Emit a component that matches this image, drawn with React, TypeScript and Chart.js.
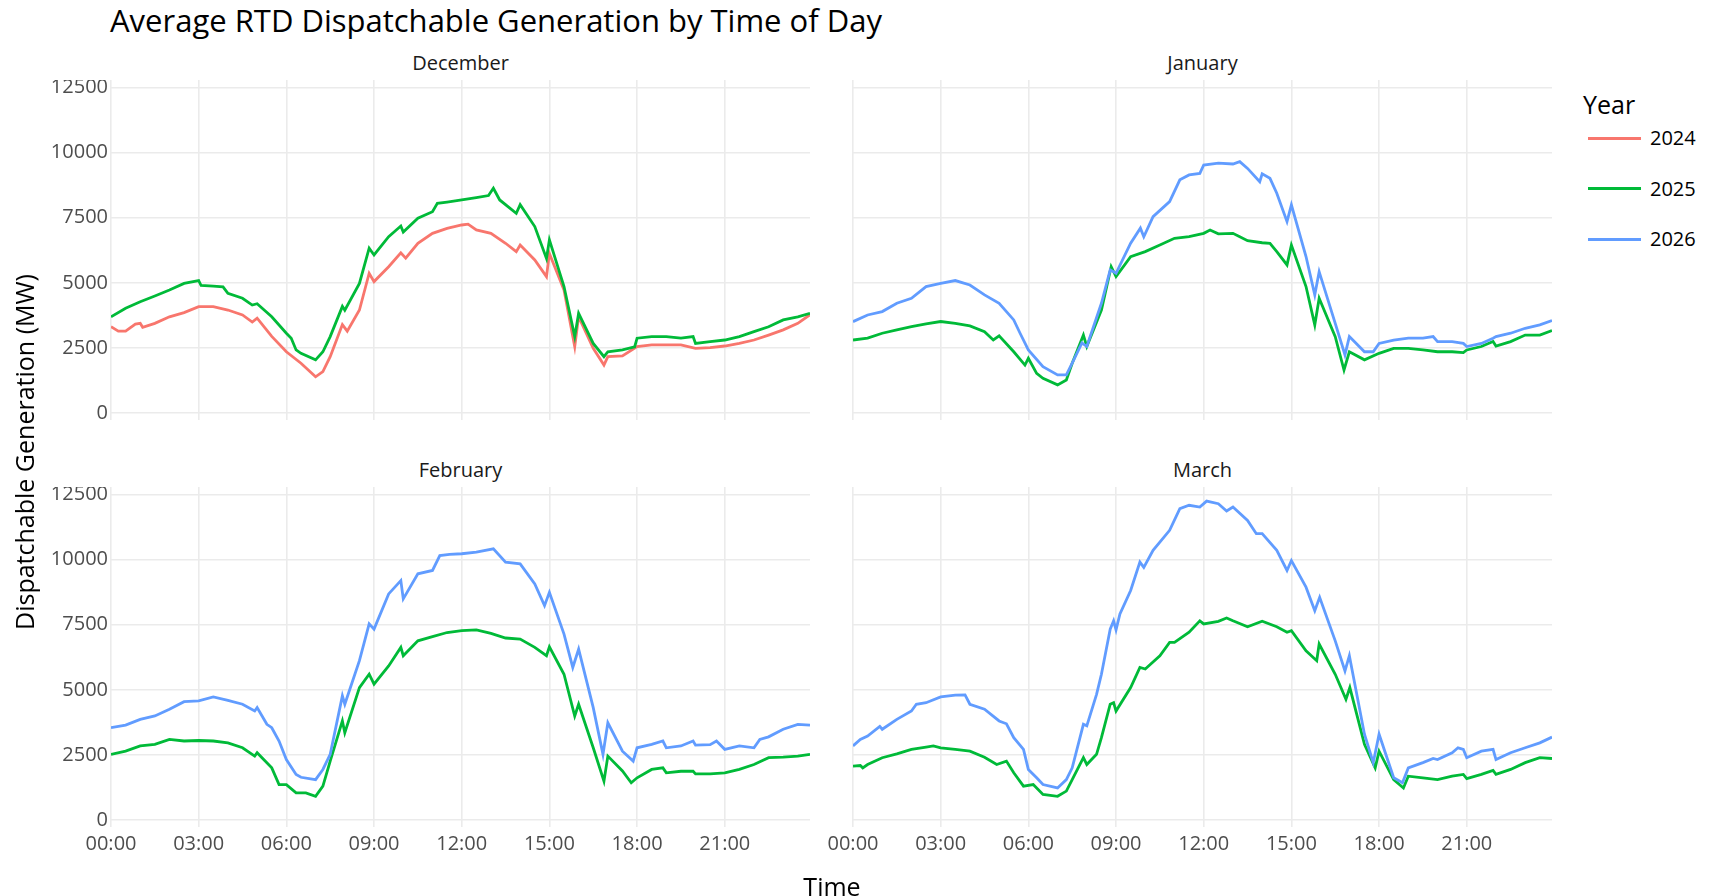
import React, { useEffect, useRef } from "react";
import { Chart, registerables } from "chart.js";

Chart.register(...registerables);

// ---------- data (time of day "HH:MM", MW) ----------
const YEARS = ["2024", "2025", "2026"];
const X_TICKS = [0, 3, 6, 9, 12, 15, 18, 21];
const X_TICK_LABELS = ["00:00", "03:00", "06:00", "09:00", "12:00", "15:00", "18:00", "21:00"];
const Y_TICKS = [0, 2500, 5000, 7500, 10000, 12500];

const dec2024: [string, number][] = [
  ["00:00", 3320], ["00:15", 3150], ["00:30", 3150], ["00:50", 3420], ["01:00", 3450], ["01:05", 3300],
  ["01:30", 3450], ["02:00", 3700], ["02:30", 3860], ["03:00", 4090], ["03:30", 4090], ["04:00", 3960],
  ["04:30", 3770], ["04:50", 3500], ["05:00", 3650], ["05:30", 2950], ["06:00", 2360], ["06:30", 1920],
  ["07:00", 1400], ["07:15", 1600], ["07:30", 2170], ["07:55", 3400], ["08:05", 3150], ["08:30", 3960],
  ["08:50", 5370], ["09:00", 5050], ["09:30", 5620], ["09:55", 6150], ["10:05", 5950], ["10:30", 6520],
  ["11:00", 6900], ["11:30", 7090], ["12:00", 7220], ["12:13", 7250], ["12:30", 7030], ["13:00", 6900],
  ["13:30", 6520], ["13:52", 6200], ["14:00", 6450], ["14:30", 5880], ["14:54", 5240], ["15:00", 6130],
  ["15:30", 4730], ["15:52", 2560], ["16:00", 3710], ["16:30", 2490], ["16:52", 1850], ["17:00", 2170],
  ["17:30", 2200], ["18:00", 2560], ["18:30", 2620], ["19:00", 2620], ["19:30", 2620], ["20:00", 2490],
  ["20:30", 2520], ["21:00", 2580], ["21:30", 2680], ["22:00", 2810], ["22:30", 3000], ["23:00", 3200],
  ["23:30", 3450], ["23:55", 3780],
];

const dec2025: [string, number][] = [
  ["00:00", 3700], ["00:30", 4030], ["01:00", 4280], ["01:30", 4500], ["02:00", 4730], ["02:30", 4980],
  ["03:00", 5090], ["03:05", 4900], ["03:30", 4880], ["03:50", 4850], ["04:00", 4600], ["04:30", 4410],
  ["04:50", 4150], ["05:00", 4200], ["05:30", 3700], ["06:00", 3070], ["06:10", 2880], ["06:20", 2430],
  ["06:30", 2300], ["07:00", 2050], ["07:15", 2360], ["07:30", 2940], ["07:55", 4100], ["08:00", 3950],
  ["08:30", 4980], ["08:50", 6330], ["09:00", 6070], ["09:30", 6770], ["09:55", 7180], ["10:00", 6950],
  ["10:30", 7480], ["11:00", 7730], ["11:10", 8050], ["11:30", 8100], ["12:00", 8180], ["12:30", 8270],
  ["12:55", 8350], ["13:05", 8630], ["13:18", 8180], ["13:52", 7670], ["14:00", 8000], ["14:30", 7160],
  ["14:54", 5940], ["15:00", 6650], ["15:30", 4860], ["15:52", 2940], ["16:00", 3830], ["16:30", 2680],
  ["16:52", 2170], ["17:00", 2360], ["17:30", 2430], ["17:55", 2550], ["18:00", 2880], ["18:30", 2940],
  ["19:00", 2940], ["19:30", 2880], ["19:55", 2940], ["20:00", 2680], ["20:30", 2750], ["21:00", 2810],
  ["21:30", 2940], ["22:00", 3130], ["22:30", 3320], ["23:00", 3580], ["23:30", 3700], ["23:55", 3830],
];

const jan2025: [string, number][] = [
  ["00:00", 2810], ["00:30", 2880], ["01:00", 3070], ["01:30", 3200], ["02:00", 3320], ["02:30", 3430],
  ["03:00", 3520], ["03:30", 3450], ["04:00", 3350], ["04:30", 3130], ["04:48", 2810], ["05:00", 2970],
  ["05:30", 2360], ["05:53", 1850], ["06:00", 2110], ["06:17", 1530], ["06:30", 1340], ["07:00", 1090],
  ["07:18", 1280], ["07:30", 1920], ["07:53", 3000], ["08:00", 2560], ["08:30", 3960], ["08:50", 5620],
  ["09:00", 5240], ["09:30", 6010], ["10:00", 6200], ["10:30", 6450], ["11:00", 6710], ["11:30", 6770],
  ["12:00", 6900], ["12:13", 7030], ["12:30", 6880], ["13:00", 6900], ["13:14", 6770], ["13:30", 6620],
  ["14:00", 6540], ["14:16", 6520], ["14:30", 6200], ["14:51", 5690], ["15:00", 6450], ["15:30", 4860],
  ["15:48", 3390], ["15:57", 4410], ["16:30", 2940], ["16:48", 1660], ["16:59", 2360], ["17:30", 2050],
  ["18:00", 2300], ["18:30", 2490], ["19:00", 2490], ["19:30", 2430], ["20:00", 2360], ["20:30", 2360],
  ["20:53", 2330], ["21:00", 2430], ["21:30", 2560], ["21:54", 2750], ["22:00", 2580], ["22:30", 2750],
  ["23:00", 3000], ["23:30", 3000], ["23:55", 3170],
];

const jan2026: [string, number][] = [
  ["00:00", 3515], ["00:30", 3770], ["01:00", 3900], ["01:30", 4220], ["02:00", 4410], ["02:30", 4860],
  ["03:00", 4980], ["03:30", 5090], ["04:00", 4920], ["04:30", 4540], ["05:00", 4220], ["05:30", 3580],
  ["05:43", 3070], ["06:00", 2430], ["06:30", 1790], ["07:00", 1470], ["07:18", 1470], ["07:30", 1920],
  ["07:50", 2700], ["08:00", 2560], ["08:30", 4220], ["08:48", 5500], ["09:00", 5370], ["09:30", 6520],
  ["09:50", 7100], ["09:57", 6770], ["10:16", 7540], ["10:50", 8120], ["11:11", 8950], ["11:30", 9140],
  ["11:52", 9200], ["12:00", 9520], ["12:30", 9590], ["13:00", 9560], ["13:14", 9650], ["13:30", 9390],
  ["13:55", 8880], ["14:00", 9180], ["14:16", 9010], ["14:30", 8440], ["14:51", 7350], ["15:00", 7990],
  ["15:30", 6010], ["15:48", 4540], ["15:57", 5430], ["16:30", 3450], ["16:50", 2240], ["16:59", 2940],
  ["17:30", 2360], ["17:48", 2360], ["18:00", 2680], ["18:30", 2810], ["19:00", 2880], ["19:30", 2880],
  ["19:51", 2940], ["20:00", 2750], ["20:30", 2750], ["20:53", 2680], ["21:00", 2560], ["21:30", 2680],
  ["21:54", 2880], ["22:00", 2940], ["22:30", 3070], ["23:00", 3260], ["23:30", 3390], ["23:55", 3560],
];

const feb2025: [string, number][] = [
  ["00:00", 2530], ["00:30", 2650], ["01:00", 2850], ["01:30", 2910], ["02:00", 3100], ["02:30", 3040],
  ["03:00", 3060], ["03:30", 3040], ["04:00", 2970], ["04:30", 2780], ["04:55", 2460], ["05:00", 2590],
  ["05:30", 2010], ["05:45", 1370], ["06:00", 1370], ["06:20", 1050], ["06:40", 1050], ["07:00", 920],
  ["07:15", 1310], ["07:30", 2270], ["07:55", 3810], ["08:00", 3360], ["08:30", 5090], ["08:50", 5600],
  ["09:00", 5220], ["09:30", 5920], ["09:55", 6630], ["10:00", 6310], ["10:30", 6880], ["11:00", 7040],
  ["11:30", 7200], ["12:00", 7270], ["12:30", 7300], ["13:00", 7170], ["13:30", 6990], ["14:00", 6950],
  ["14:30", 6630], ["14:54", 6310], ["15:00", 6650], ["15:30", 5600], ["15:52", 4000], ["16:00", 4450],
  ["16:30", 2780], ["16:52", 1500], ["17:00", 2460], ["17:30", 1890], ["17:48", 1440], ["18:00", 1630],
  ["18:30", 1950], ["18:53", 2010], ["19:00", 1820], ["19:30", 1880], ["19:55", 1880], ["20:00", 1780],
  ["20:30", 1780], ["21:00", 1820], ["21:30", 1950], ["22:00", 2140], ["22:30", 2400], ["23:00", 2420],
  ["23:30", 2460], ["23:55", 2530],
];

const feb2026: [string, number][] = [
  ["00:00", 3550], ["00:30", 3650], ["01:00", 3870], ["01:30", 4000], ["02:00", 4260], ["02:30", 4550],
  ["03:00", 4580], ["03:30", 4730], ["04:00", 4600], ["04:30", 4450], ["04:55", 4190], ["05:00", 4320],
  ["05:20", 3680], ["05:30", 3550], ["05:45", 3040], ["06:00", 2330], ["06:20", 1760], ["06:30", 1650],
  ["07:00", 1560], ["07:15", 1950], ["07:30", 2530], ["07:55", 4770], ["08:00", 4450], ["08:30", 6120],
  ["08:50", 7530], ["09:00", 7330], ["09:30", 8680], ["09:55", 9190], ["10:00", 8490], ["10:30", 9450],
  ["11:00", 9580], ["11:15", 10150], ["11:35", 10200], ["12:00", 10220], ["12:30", 10280], ["13:05", 10410],
  ["13:30", 9900], ["14:00", 9830], ["14:30", 9060], ["14:50", 8230], ["15:00", 8740], ["15:30", 7140],
  ["15:48", 5860], ["16:00", 6560], ["16:30", 4320], ["16:50", 2530], ["17:00", 3740], ["17:30", 2650],
  ["17:52", 2270], ["18:00", 2780], ["18:30", 2910], ["18:53", 3040], ["19:00", 2780], ["19:30", 2850],
  ["19:55", 3040], ["20:00", 2880], ["20:30", 2900], ["20:43", 3040], ["21:00", 2720], ["21:30", 2850],
  ["22:00", 2780], ["22:12", 3100], ["22:30", 3200], ["23:00", 3490], ["23:30", 3680], ["23:55", 3650],
];

const mar2025: [string, number][] = [
  ["00:00", 2080], ["00:15", 2100], ["00:20", 2010], ["00:30", 2140], ["01:00", 2400], ["01:30", 2550],
  ["02:00", 2720], ["02:30", 2810], ["02:45", 2850], ["03:00", 2780], ["03:30", 2720], ["04:00", 2650],
  ["04:30", 2420], ["04:55", 2140], ["05:15", 2270], ["05:30", 1820], ["05:50", 1310], ["06:10", 1370],
  ["06:30", 990], ["07:00", 920], ["07:18", 1120], ["07:30", 1560], ["07:53", 2400], ["08:00", 2140],
  ["08:20", 2530], ["08:30", 3170], ["08:48", 4450], ["08:55", 4510], ["09:00", 4190], ["09:30", 5090],
  ["09:49", 5860], ["10:00", 5800], ["10:30", 6310], ["10:50", 6820], ["11:00", 6820], ["11:30", 7210],
  ["11:52", 7650], ["12:00", 7530], ["12:30", 7630], ["12:47", 7760], ["13:00", 7650], ["13:30", 7420],
  ["14:00", 7630], ["14:30", 7420], ["14:51", 7210], ["15:00", 7270], ["15:30", 6500], ["15:52", 6120],
  ["15:57", 6760], ["16:30", 5600], ["16:52", 4640], ["17:00", 5090], ["17:30", 2910], ["17:52", 2010],
  ["18:00", 2650], ["18:30", 1560], ["18:50", 1240], ["19:00", 1690], ["19:30", 1630], ["20:00", 1560],
  ["20:30", 1690], ["20:53", 1760], ["21:00", 1600], ["21:30", 1760], ["21:54", 1910], ["22:00", 1760],
  ["22:30", 1950], ["23:00", 2210], ["23:30", 2400], ["23:55", 2370],
];

const mar2026: [string, number][] = [
  ["00:00", 2850], ["00:15", 3100], ["00:30", 3230], ["00:55", 3600], ["01:00", 3490], ["01:30", 3870],
  ["02:00", 4190], ["02:10", 4450], ["02:30", 4510], ["03:00", 4730], ["03:30", 4800], ["03:50", 4810],
  ["04:00", 4450], ["04:30", 4260], ["05:00", 3810], ["05:15", 3700], ["05:30", 3170], ["05:50", 2720],
  ["06:00", 1950], ["06:17", 1630], ["06:30", 1370], ["07:00", 1240], ["07:18", 1560], ["07:30", 2010],
  ["07:53", 3680], ["08:00", 3620], ["08:20", 4830], ["08:30", 5600], ["08:48", 7330], ["08:55", 7650],
  ["09:00", 7300], ["09:08", 7910], ["09:30", 8810], ["09:49", 9900], ["09:57", 9700], ["10:16", 10350],
  ["10:50", 11120], ["11:11", 11950], ["11:30", 12080], ["11:52", 12010], ["12:06", 12240], ["12:30", 12140],
  ["12:47", 11860], ["13:00", 12010], ["13:30", 11500], ["13:48", 10990], ["14:00", 10990], ["14:30", 10350],
  ["14:51", 9580], ["15:00", 9960], ["15:30", 8940], ["15:48", 8040], ["15:58", 8550], ["16:30", 6880],
  ["16:50", 5730], ["16:59", 6310], ["17:30", 3300], ["17:48", 2210], ["18:00", 3300], ["18:30", 1630],
  ["18:48", 1440], ["19:00", 2010], ["19:30", 2210], ["19:51", 2370], ["20:00", 2330], ["20:30", 2590],
  ["20:42", 2780], ["20:53", 2720], ["21:00", 2400], ["21:30", 2650], ["21:54", 2720], ["22:00", 2330],
  ["22:30", 2590], ["23:00", 2780], ["23:30", 2970], ["23:55", 3190],
];

// ---------- styling / layout ----------
const COLORS: Record<string, string> = { "2024": "#F8766D", "2025": "#00BA38", "2026": "#619CFF" };
const FONT = "'Open Sans', 'Noto Sans', sans-serif";
const GRID = "#EBEBEB";
const TICK_COLOR = "#4D4D4D";
const TEXT_COLOR = "#1A1A1A";
const X_MIN = 0;
const X_MAX = 23 + 55 / 60;
const Y_MIN = -257;
const Y_MAX = 12780;
const PLOT_W = 699;
const PLOT_H = 340;
const Y_AXIS_W = 90;
const X_AXIS_H = 45;
const RIGHT_PAD = 12;

type PanelSpec = {
  name: string;
  series: [string, [string, number][]][];
  left: number;
  top: number;
  showX: boolean;
  showY: boolean;
};

const PANELS: PanelSpec[] = [
  { name: "December", series: [["2024", dec2024], ["2025", dec2025]], left: 111, top: 80, showX: false, showY: true },
  { name: "January", series: [["2025", jan2025], ["2026", jan2026]], left: 853, top: 80, showX: false, showY: false },
  { name: "February", series: [["2025", feb2025], ["2026", feb2026]], left: 111, top: 487, showX: true, showY: true },
  { name: "March", series: [["2025", mar2025], ["2026", mar2026]], left: 853, top: 487, showX: true, showY: false },
];

const toHours = (t: string) => {
  const [h, m] = t.split(":").map(Number);
  return h + m / 60;
};

const zeroPadding = (s: any) => {
  s.paddingTop = 0;
  s.paddingBottom = 0;
  s.paddingLeft = 0;
  s.paddingRight = 0;
};

function Panel({ spec }: { spec: PanelSpec }) {
  const ref = useRef<HTMLCanvasElement>(null);
  const cw = Y_AXIS_W + PLOT_W + RIGHT_PAD;
  const ch = PLOT_H + (spec.showX ? X_AXIS_H : 0);

  useEffect(() => {
    const datasets = [...spec.series].reverse().map(([year, pts]) => ({
      label: year,
      data: pts.map(([t, v]) => ({ x: toHours(t), y: v })),
      borderColor: COLORS[year],
      backgroundColor: COLORS[year],
      borderWidth: 2.8,
      pointRadius: 0,
      tension: 0,
      fill: false,
    }));
    const chart = new Chart(ref.current as HTMLCanvasElement, {
      type: "line",
      data: { datasets },
      options: {
        animation: false,
        responsive: false,
        maintainAspectRatio: false,
        devicePixelRatio: 1,
        events: [],
        layout: { padding: { left: 0, right: RIGHT_PAD, top: 0, bottom: 0 } },
        plugins: { legend: { display: false }, tooltip: { enabled: false }, title: { display: false } },
        scales: {
          x: {
            type: "linear",
            min: X_MIN,
            max: X_MAX,
            afterBuildTicks: (s: any) => {
              s.ticks = X_TICKS.map((v) => ({ value: v }));
            },
            afterFit: (s: any) => {
              s.height = spec.showX ? X_AXIS_H : 0;
              zeroPadding(s);
            },
            grid: { color: GRID, lineWidth: 1.6, drawTicks: false },
            border: { display: false },
            ticks: {
              display: spec.showX,
              padding: 5,
              autoSkip: false,
              maxRotation: 0,
              color: TICK_COLOR,
              font: { family: FONT, size: 20 },
              callback: (_v: any, i: number) => X_TICK_LABELS[i],
            },
          },
          y: {
            type: "linear",
            min: Y_MIN,
            max: Y_MAX,
            afterBuildTicks: (s: any) => {
              s.ticks = Y_TICKS.map((v) => ({ value: v }));
            },
            afterFit: (s: any) => {
              s.width = Y_AXIS_W;
              zeroPadding(s);
            },
            grid: { color: GRID, lineWidth: 1.6, drawTicks: false },
            border: { display: false },
            ticks: {
              display: spec.showY,
              padding: 3,
              color: TICK_COLOR,
              font: { family: FONT, size: 20 },
              callback: (v: any) => String(v),
            },
          },
        },
      },
    } as any);
    return () => chart.destroy();
  }, [spec]);

  return (
    <canvas
      ref={ref}
      width={cw}
      height={ch}
      style={{ position: "absolute", left: spec.left - Y_AXIS_W, top: spec.top, width: cw, height: ch }}
    />
  );
}

function Text({ children, style }: { children: React.ReactNode; style: React.CSSProperties }) {
  return (
    <div style={{ position: "absolute", fontFamily: FONT, whiteSpace: "nowrap", color: TEXT_COLOR, ...style }}>
      {children}
    </div>
  );
}

export default function App() {
  return (
    <div style={{ position: "absolute", left: 0, top: 0, width: 1716, height: 896, background: "#fff", overflow: "hidden" }}>
      <Text style={{ left: 110, top: 2, fontSize: 31, lineHeight: "36px", color: "#000" }}>
        Average RTD Dispatchable Generation by Time of Day
      </Text>

      {PANELS.map((p) => (
        <Text
          key={p.name + "-strip"}
          style={{ left: p.left, width: PLOT_W, top: p.top - 29, fontSize: 20, lineHeight: "24px", textAlign: "center" }}
        >
          {p.name}
        </Text>
      ))}

      {PANELS.map((p) => (
        <Panel key={p.name} spec={p} />
      ))}

      <Text
        style={{
          left: 24 - 250,
          top: 452 - 15,
          width: 500,
          fontSize: 25,
          lineHeight: "30px",
          textAlign: "center",
          transform: "rotate(-90deg)",
          color: "#000",
        }}
      >
        Dispatchable Generation (MW)
      </Text>

      <Text style={{ left: 832 - 100, width: 200, top: 886 - 15, fontSize: 25, lineHeight: "30px", textAlign: "center", color: "#000" }}>
        Time
      </Text>

      <Text style={{ left: 1583, top: 104 - 15, fontSize: 25, lineHeight: "30px", color: "#000" }}>Year</Text>
      {YEARS.map((y, i) => (
        <React.Fragment key={y}>
          <div
            style={{
              position: "absolute",
              left: 1588,
              top: 138 + i * 50.5 - 1.5,
              width: 53,
              height: 3,
              background: COLORS[y],
            }}
          />
          <Text style={{ left: 1650, top: 138 + i * 50.5 - 12, fontSize: 20, lineHeight: "24px", color: "#000" }}>{y}</Text>
        </React.Fragment>
      ))}
    </div>
  );
}
